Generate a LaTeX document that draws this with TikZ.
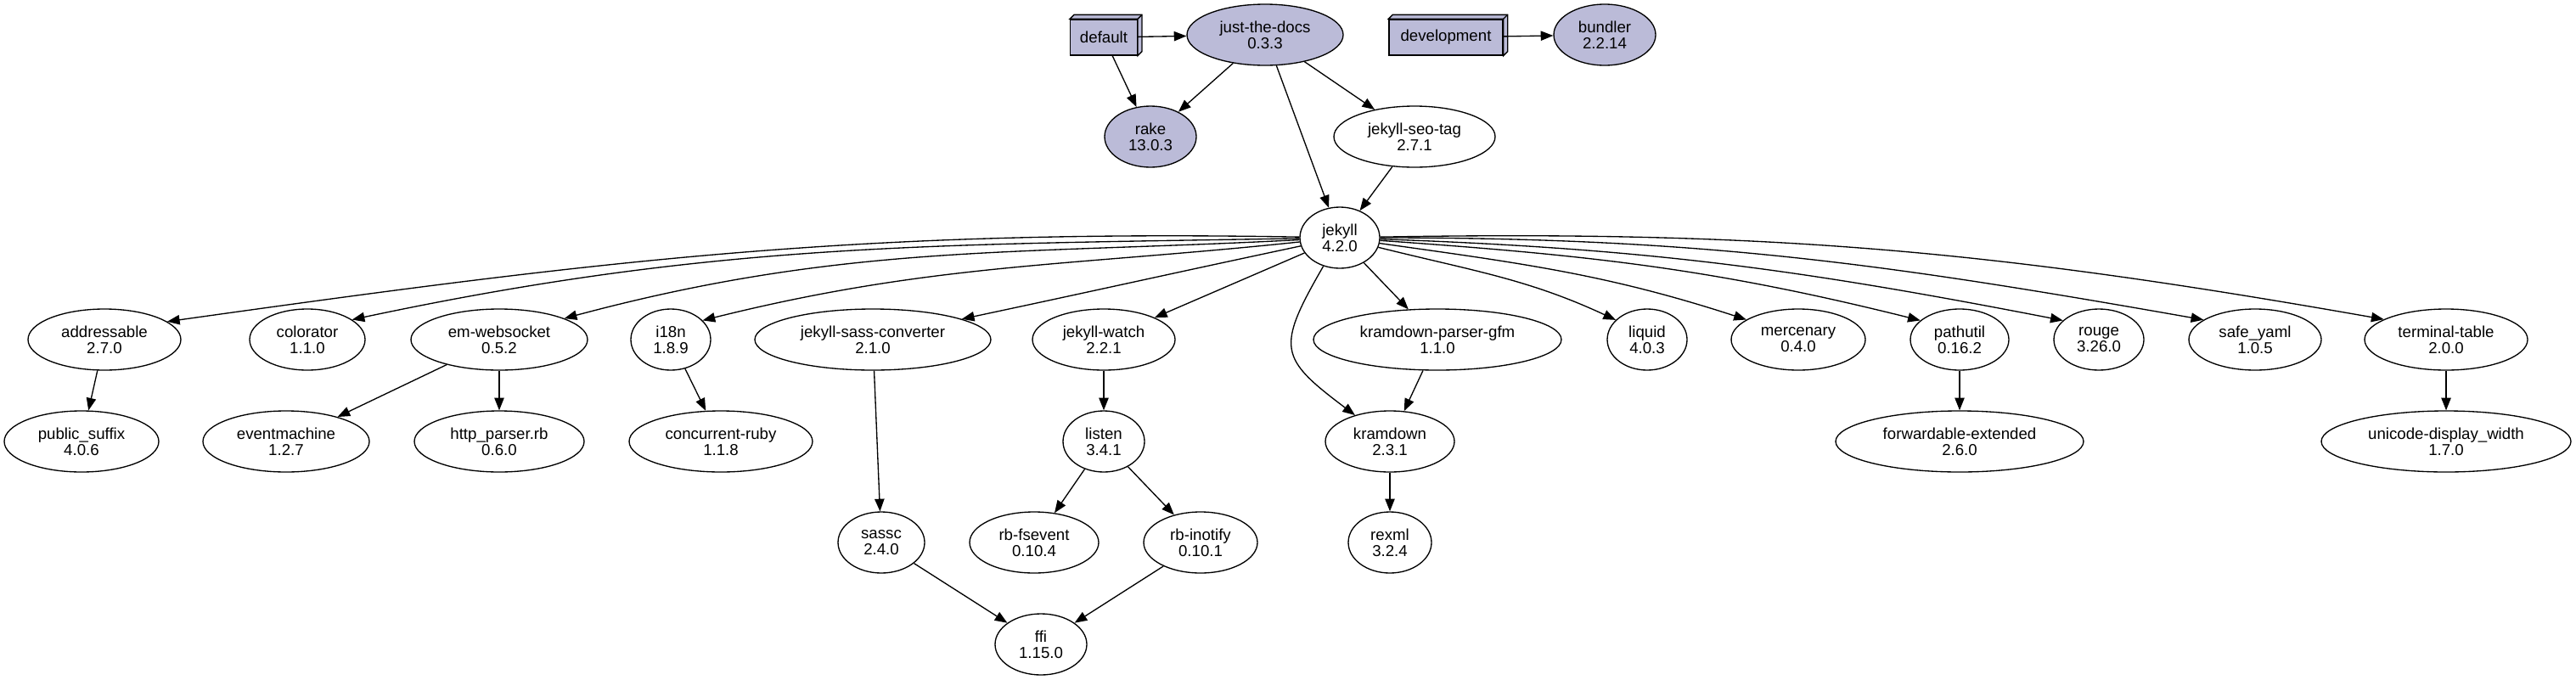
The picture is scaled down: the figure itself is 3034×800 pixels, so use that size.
\documentclass[tikz,border=0pt]{standalone}
\usepackage{fontspec}
\setmainfont{Liberation Sans}
\usetikzlibrary{shapes.geometric,arrows.meta}
\definecolor{groupfill}{RGB}{187,187,216}

\begin{document}
\begin{tikzpicture}[x=0.75pt,y=-0.75pt,
    gem/.style={ellipse,draw,line width=1pt,inner sep=0pt,minimum height=54pt,align=center,font=\fontsize{14}{14.3}\selectfont},
    wd/.style={minimum width=#1*1.5pt},
    group/.style={rectangle,draw,fill=groupfill,line width=1pt,minimum height=31.5pt,font=\fontsize{14}{14.3}\selectfont},
    dep/.style={line width=1pt,-{Triangle[length=11pt,width=8.5pt]}}]

  \useasboundingbox (0,0) rectangle (3034,800);

  % groups (box3d)
  \node[group,minimum width=59pt] (default) at (1300,44) {default};
  \node[group,minimum width=100.5pt] (development) at (1703,44) {development};
  \foreach \g in {default,development}
    {
      \filldraw[fill=groupfill,line width=1pt] (\g.north west) -- ++(5,-5) -- ([shift={(5,-5)}]\g.north east)
        -- ([shift={(5,-5)}]\g.south east) -- (\g.south east) -- (\g.north east) -- cycle;
      \draw[line width=1pt] (\g.north east) -- ++(5,-5);
    }

  \node[gem,wd=92,fill=groupfill] (jtd) at (1490,41) {just-the-docs\\0.3.3};
  \node[gem,wd=60,fill=groupfill] (bundler) at (1890,41) {bundler\\2.2.14};
  \node[gem,wd=54,fill=groupfill] (rake) at (1355,161) {rake\\13.0.3};
  \node[gem,wd=95] (seo) at (1666,161) {jekyll-seo-tag\\2.7.1};
  \node[gem,wd=47] (jekyll) at (1578,280) {jekyll\\4.2.0};

  % direct dependencies of jekyll
  \foreach \n/\x/\w/\l in {addressable/123/90/{addressable\\2.7.0}, colorator/362/68/{colorator\\1.1.0},
      emws/588/104/{em-websocket\\0.5.2}, i18n/790/47/{i18n\\1.8.9}, jsc/1028/139/{jekyll-sass-converter\\2.1.0},
      jwatch/1300/84/{jekyll-watch\\2.2.1}, kpg/1693/146/{kramdown-parser-gfm\\1.1.0}, liquid/1940/47/{liquid\\4.0.3},
      mercenary/2118/79/{mercenary\\0.4.0}, pathutil/2308/58/{pathutil\\0.16.2}, rouge/2472/53/{rouge\\3.26.0},
      safeyaml/2656/78/{safe\_yaml\\1.0.5}, ttable/2881/96/{terminal-table\\2.0.0}}
    \node[gem,wd=\w] (\n) at (\x,400) {\l};

  \foreach \n/\x/\w/\l in {publicsuffix/96/91/{public\_suffix\\4.0.6}, eventmachine/337/98/{eventmachine\\1.2.7},
      httpparser/588/100/{http\_parser.rb\\0.6.0}, concurrent/849/108/{concurrent-ruby\\1.1.8},
      listen/1300/48/{listen\\3.4.1}, kramdown/1637/76/{kramdown\\2.3.1},
      forwardable/2308/146/{forwardable-extended\\2.6.0}, unicode/2881/147/{unicode-display\_width\\1.7.0}}
    \node[gem,wd=\w] (\n) at (\x,520) {\l};

  \node[gem,wd=51] (sassc) at (1038,639) {sassc\\2.4.0};
  \node[gem,wd=76] (fsevent) at (1218,639) {rb-fsevent\\0.10.4};
  \node[gem,wd=67] (inotify) at (1414,639) {rb-inotify\\0.10.1};
  \node[gem,wd=49] (rexml) at (1637,639) {rexml\\3.2.4};
  \node[gem,wd=54] (ffi) at (1226,759) {ffi\\1.15.0};

  % edges
  \draw[dep] (default) -- (jtd);
  \draw[dep] (default) -- (rake);
  \draw[dep] (jtd) -- (rake);
  \draw[dep] (jtd) -- (jekyll);
  \draw[dep] (jtd) -- (seo);
  \draw[dep] (development) -- (bundler);
  \draw[dep] (seo) -- (jekyll);

  % target/out/in/anchor
  \foreach \t/\o/\i/\a in {addressable/179/8/16, colorator/181/12/24, emws/183/15/18, i18n/186/14/31, jsc/192/12/13,
      liquid/346/155/148, mercenary/352/162/159, pathutil/356/166/154, rouge/358/169/152, safeyaml/0/170/159, ttable/1/170/162}
    \draw[dep] (jekyll) to[out=\o,in=\i] (\t.\a);
  \draw[dep] (jekyll) -- (jwatch);
  \draw[dep] (jekyll) -- (kpg);
  \draw[dep] (jekyll) to[out=240,in=143,looseness=1.6] (kramdown);

  \draw[dep] (addressable) -- (publicsuffix);
  \draw[dep] (emws) -- (eventmachine);
  \draw[dep] (emws) -- (httpparser);
  \draw[dep] (i18n) -- (concurrent);
  \draw[dep] (jsc) -- (sassc);
  \draw[dep] (jwatch) -- (listen);
  \draw[dep] (listen) -- (fsevent);
  \draw[dep] (listen) -- (inotify);
  \draw[dep] (kpg) -- (kramdown);
  \draw[dep] (kramdown) -- (rexml);
  \draw[dep] (pathutil) -- (forwardable);
  \draw[dep] (ttable) -- (unicode);
  \draw[dep] (sassc) -- (ffi);
  \draw[dep] (inotify) -- (ffi);
\end{tikzpicture}
\end{document}
